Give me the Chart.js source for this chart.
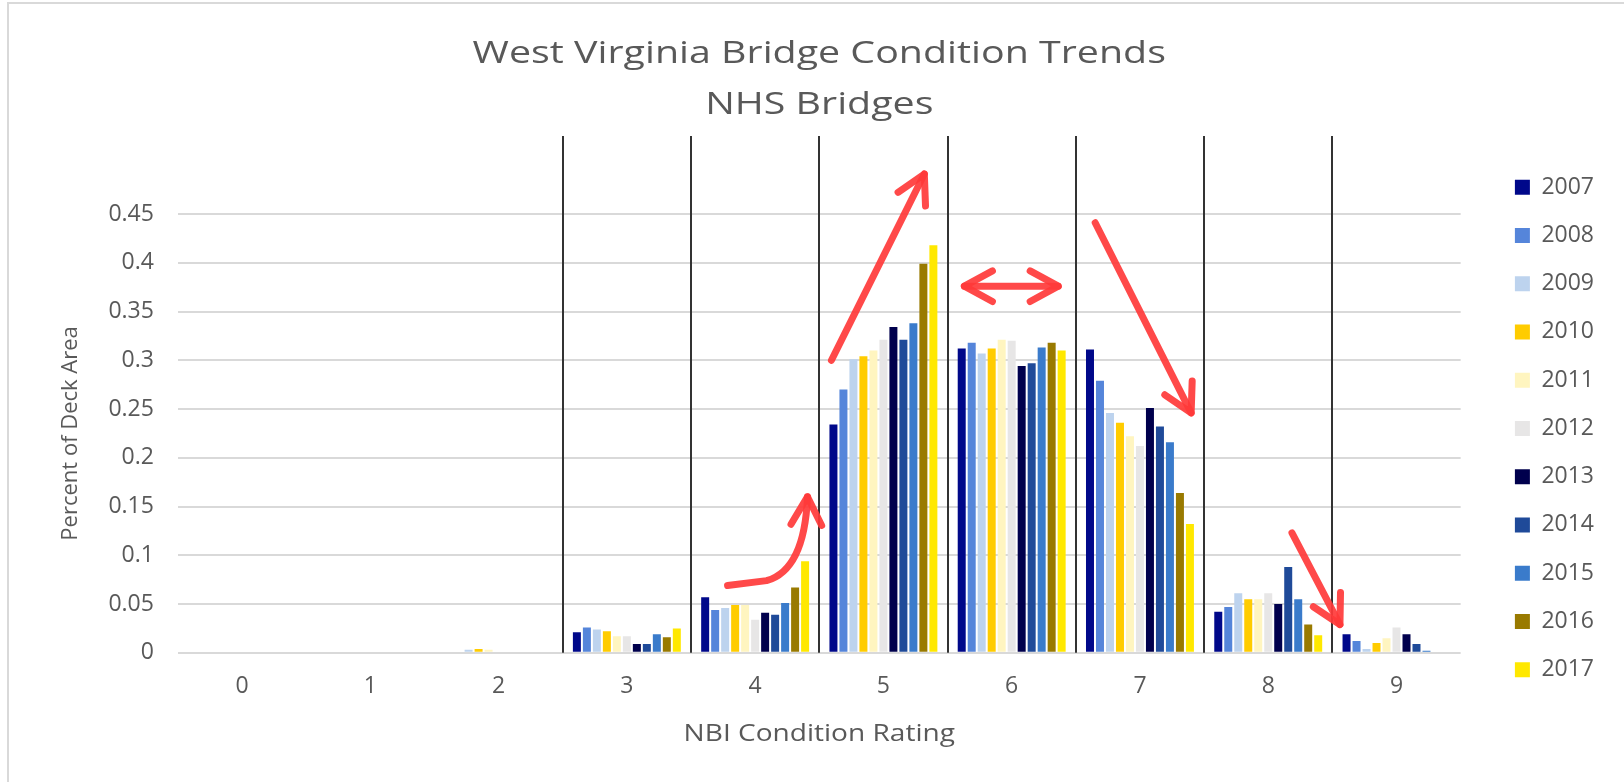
<!DOCTYPE html>
<html>
<head>
<meta charset="utf-8">
<title>West Virginia Bridge Condition Trends</title>
<script src="https://cdn.jsdelivr.net/npm/chart.js@4.4.1/dist/chart.umd.min.js"></script>
<style>
  html, body { margin: 0; padding: 0; background: #fff; overflow: hidden; }
  #frame { position: absolute; left: 7px; top: 2px; width: 1700px; height: 900px;
           border-left: 2px solid #d9d9d9; border-top: 2px solid #d9d9d9; }
  #wrap { position: absolute; left: 0; top: 0; width: 1624px; height: 782px; }
</style>
</head>
<body>
<div id="frame"></div>
<div id="wrap"><canvas id="bridgeChart" width="1624" height="782"></canvas></div>
<script>
// NBI condition ratings (x axis)
var ratings = ['0', '1', '2', '3', '4', '5', '6', '7', '8', '9'];
var years = ['2007', '2008', '2009', '2010', '2011', '2012', '2013', '2014', '2015', '2016', '2017'];

// share of deck area per rating, one array per year
var y2007 = [0, 0, 0,     0.021, 0.057, 0.234, 0.312, 0.311, 0.042, 0.019];
var y2008 = [0, 0, 0,     0.026, 0.044, 0.270, 0.318, 0.279, 0.047, 0.012];
var y2009 = [0, 0, 0.003, 0.024, 0.046, 0.301, 0.307, 0.246, 0.061, 0.004];
var y2010 = [0, 0, 0.004, 0.022, 0.049, 0.304, 0.312, 0.236, 0.055, 0.010];
var y2011 = [0, 0, 0.003, 0.017, 0.049, 0.310, 0.321, 0.222, 0.055, 0.015];
var y2012 = [0, 0, 0.001, 0.017, 0.034, 0.321, 0.320, 0.212, 0.061, 0.026];
var y2013 = [0, 0, 0,     0.009, 0.041, 0.334, 0.294, 0.251, 0.050, 0.019];
var y2014 = [0, 0, 0,     0.009, 0.039, 0.321, 0.297, 0.232, 0.088, 0.009];
var y2015 = [0, 0, 0,     0.019, 0.051, 0.338, 0.313, 0.216, 0.055, 0.002];
var y2016 = [0, 0, 0,     0.016, 0.067, 0.399, 0.318, 0.164, 0.029, 0];
var y2017 = [0, 0, 0,     0.025, 0.094, 0.418, 0.310, 0.132, 0.018, 0];
var seriesValues = [y2007, y2008, y2009, y2010, y2011, y2012, y2013, y2014, y2015, y2016, y2017];

var yearColors = ['#00088a', '#5585da', '#bdd3ee', '#ffcc00', '#fff5c0', '#e7e6e6',
                  '#00004d', '#1f4a99', '#3a7bcb', '#997a00', '#ffe800'];

// hand-drawn red arrows, in (rating, share) units
var arrowNotes = [
    { path: [[3.785, 0.069], [4.089, 0.074]], bend: [4.385, 0.085], to: [4.408, 0.160] },
    { path: [[4.595, 0.300]], to: [5.319, 0.491] },
    { path: [[5.631, 0.376]], to: [6.363, 0.376], both: true },
    { path: [[6.651, 0.441]], to: [7.399, 0.246] },
    { path: [[8.185, 0.123]], to: [8.559, 0.029] }
];

var textGrey = '#595959';
var font = 'Open Sans';

// black divider lines between the rating groups 2..9
var separators = {
    id: 'separators',
    beforeDatasetsDraw: function (chart) {
        var x = chart.scales.x, y = chart.scales.y, ctx = chart.ctx;
        ctx.save();
        ctx.strokeStyle = '#333333';
        ctx.lineWidth = 2;
        for (var i = 2; i < 9; i++) {
            var px = Math.round((x.getPixelForValue(i) + x.getPixelForValue(i + 1)) / 2);
            ctx.beginPath();
            ctx.moveTo(px, y.getPixelForValue(0.53));
            ctx.lineTo(px, y.getPixelForValue(0));
            ctx.stroke();
        }
        ctx.restore();
    }
};

function arrowHead(ctx, fx, fy, tx, ty) {
    var a = Math.atan2(ty - fy, tx - fx), len = 32, spread = 0.5;
    ctx.beginPath();
    ctx.moveTo(tx - len * Math.cos(a - spread), ty - len * Math.sin(a - spread));
    ctx.lineTo(tx, ty);
    ctx.lineTo(tx - len * Math.cos(a + spread), ty - len * Math.sin(a + spread));
    ctx.stroke();
}

var redArrows = {
    id: 'redArrows',
    afterDatasetsDraw: function (chart) {
        var x = chart.scales.x, y = chart.scales.y, ctx = chart.ctx;
        var pt = function (p) { return [x.getPixelForValue(p[0]), y.getPixelForValue(p[1])]; };
        ctx.save();
        ctx.strokeStyle = 'rgba(255, 58, 58, 0.92)';
        ctx.lineWidth = 7;
        ctx.lineCap = 'round';
        ctx.lineJoin = 'round';
        arrowNotes.forEach(function (n) {
            var pts = n.path.map(pt), end = pt(n.to), last = pts[pts.length - 1];
            ctx.beginPath();
            ctx.moveTo(pts[0][0], pts[0][1]);
            for (var i = 1; i < pts.length; i++) ctx.lineTo(pts[i][0], pts[i][1]);
            if (n.bend) {
                var b = pt(n.bend);
                ctx.quadraticCurveTo(b[0], b[1], end[0], end[1]);
                last = b;
            } else {
                ctx.lineTo(end[0], end[1]);
            }
            ctx.stroke();
            arrowHead(ctx, last[0], last[1], end[0], end[1]);
            if (n.both) arrowHead(ctx, end[0], end[1], pts[0][0], pts[0][1]);
        });
        ctx.restore();
    }
};

// the original picture has its horizontal text stretched; widen title and x title the same way
function widen(box, method, k) {
    if (!box || box['_wide_' + method]) return;
    var orig = box[method];
    box[method] = function () {
        var ctx = this.ctx, cx = (this.left + this.right) / 2;
        ctx.save();
        ctx.translate(cx, 0);
        ctx.scale(k, 1);
        ctx.translate(-cx, 0);
        orig.apply(this, arguments);
        ctx.restore();
    };
    box['_wide_' + method] = true;
}

var wideText = {
    id: 'wideText',
    afterLayout: function (chart) {
        widen(chart.titleBlock, 'draw', 1.27);
        widen(chart.scales.x, 'drawTitle', 1.22);
    }
};

var datasets = years.map(function (yr, i) {
    return {
        label: yr,
        data: seriesValues[i],
        backgroundColor: yearColors[i],
        borderWidth: 0,
        categoryPercentage: 0.857,
        barPercentage: 0.8
    };
});

var ctxBridge = document.getElementById('bridgeChart').getContext('2d');
var bridgeChart = new Chart(ctxBridge, {
    type: 'bar',
    data: { labels: ratings, datasets: datasets },
    plugins: [separators, redArrows, wideText],
    options: {
        responsive: false,
        animation: false,
        layout: { padding: { left: 58, right: 20, top: 0, bottom: 34 } },
        plugins: {
            title: {
                display: true,
                fullSize: false,
                text: ['West Virginia Bridge Condition Trends', 'NHS Bridges'],
                color: textGrey,
                font: { family: font, size: 31, weight: 'normal', lineHeight: '51px' },
                padding: { top: 29, bottom: 83 }
            },
            legend: {
                position: 'right',
                align: 'start',
                title: { display: true, text: '', padding: 68 },
                labels: {
                    boxWidth: 15,
                    boxHeight: 15,
                    padding: 25.25,
                    color: textGrey,
                    font: { family: font, size: 23 }
                }
            },
            tooltip: { enabled: false }
        },
        scales: {
            x: {
                grid: { display: false, drawTicks: false },
                border: { display: false },
                ticks: { padding: 20, color: textGrey, font: { family: font, size: 23 } },
                title: {
                    display: true,
                    text: 'NBI Condition Rating',
                    color: textGrey,
                    font: { family: font, size: 23 },
                    padding: 0
                }
            },
            y: {
                min: 0,
                max: 0.45,
                grid: { color: '#d9d9d9', lineWidth: 2, drawTicks: false },
                border: { display: false },
                ticks: {
                    stepSize: 0.05,
                    padding: 24,
                    color: textGrey,
                    font: { family: font, size: 23 },
                    callback: function (v) { return String(Number(v.toFixed(2))); }
                },
                title: {
                    display: true,
                    text: 'Percent of Deck Area',
                    color: textGrey,
                    font: { family: font, size: 22 },
                    padding: 0
                }
            },
            // empty strip keeping the legend away from the plot
            gap: {
                type: 'linear',
                axis: 'y',
                position: 'right',
                grid: { display: false, drawTicks: false },
                border: { display: false },
                ticks: { display: false },
                afterFit: function (scale) { scale.width = 29; }
            }
        }
    }
});
</script>
</body>
</html>
